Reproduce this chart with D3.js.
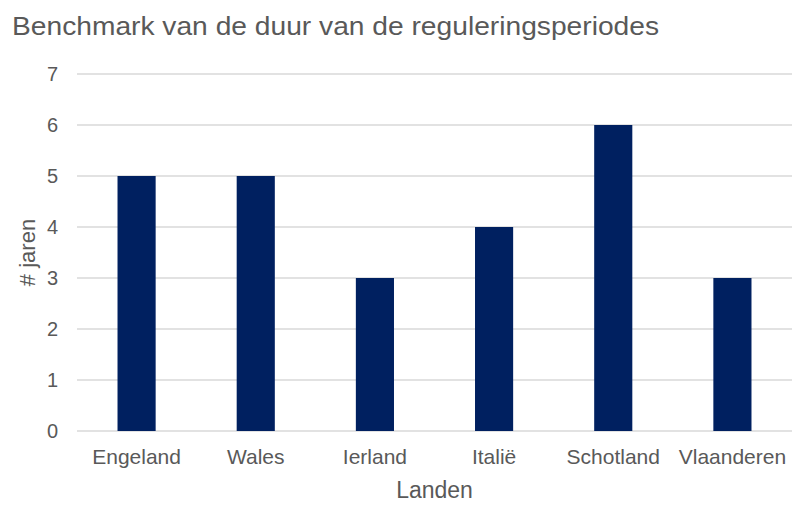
<!DOCTYPE html>
<html>
<head>
<meta charset="utf-8">
<script src="https://cdn.jsdelivr.net/npm/d3@7"></script>
<style>
  body { margin: 0; background: #fff; }
  text { font-family: "Liberation Sans", Arial, sans-serif; fill: #595959; }
</style>
</head>
<body>
<div id="chart"></div>
<script>
const landen = ['Engeland', 'Wales', 'Ierland', 'Italië', 'Schotland', 'Vlaanderen'];
const jaren = [5, 5, 3, 4, 6, 3];
const yTicks = [0, 1, 2, 3, 4, 5, 6, 7];

const width = 801, height = 521;
const margin = { top: 74, right: 9, bottom: 90, left: 77 };

const svg = d3.select('#chart')
    .append('svg')
    .attr('width', width)
    .attr('height', height);

const x = d3.scaleBand()
    .domain(landen)
    .range([margin.left, width - margin.right])
    .paddingInner(0.68)
    .paddingOuter(0.34);

const y = d3.scaleLinear()
    .domain([0, 7])
    .range([height - margin.bottom, margin.top]);

// gridlines
svg.append('g')
    .selectAll('line')
    .data(yTicks)
    .join('line')
    .attr('x1', margin.left)
    .attr('x2', width - margin.right)
    .attr('y1', d => y(d))
    .attr('y2', d => y(d))
    .attr('stroke', '#d9d9d9')
    .attr('stroke-width', 1.5);

// y tick labels
svg.append('g')
    .selectAll('text')
    .data(yTicks)
    .join('text')
    .attr('x', margin.left - 19)
    .attr('y', d => y(d))
    .attr('dy', '0.36em')
    .attr('text-anchor', 'end')
    .attr('font-size', 20)
    .text(d => d);

// bars
svg.append('g')
    .selectAll('rect')
    .data(jaren)
    .join('rect')
    .attr('x', (d, i) => x(landen[i]))
    .attr('y', d => y(d))
    .attr('width', x.bandwidth())
    .attr('height', d => y(0) - y(d))
    .attr('fill', '#002060');

// x labels
svg.append('g')
    .selectAll('text')
    .data(landen)
    .join('text')
    .attr('x', d => x(d) + x.bandwidth() / 2)
    .attr('y', 464)
    .attr('text-anchor', 'middle')
    .attr('font-size', 21)
    .text(d => d);

// axis titles
svg.append('text')
    .attr('x', (margin.left + width - margin.right) / 2)
    .attr('y', 498)
    .attr('text-anchor', 'middle')
    .attr('font-size', 23)
    .text('Landen');

svg.append('text')
    .attr('transform', `translate(35,${(y(0) + y(7)) / 2}) rotate(-90)`)
    .attr('text-anchor', 'middle')
    .attr('font-size', 22)
    .text('# jaren');

// title
svg.append('text')
    .attr('x', 12)
    .attr('y', 35)
    .attr('font-size', 26)
    .attr('textLength', 647)
    .attr('lengthAdjust', 'spacingAndGlyphs')
    .text('Benchmark van de duur van de reguleringsperiodes');
</script>
</body>
</html>
